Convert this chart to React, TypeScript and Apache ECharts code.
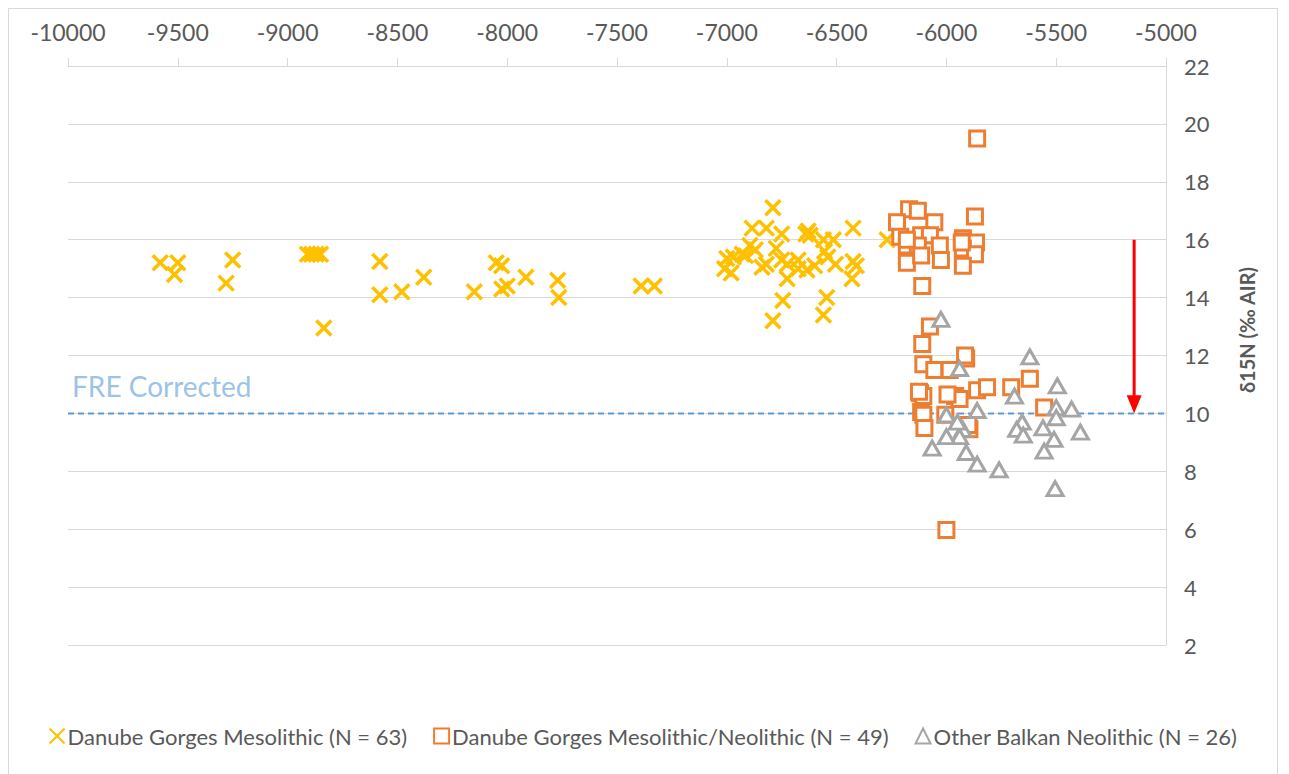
import React, { useEffect, useRef } from "react";
import * as echarts from "echarts";

const xTicks = { min: -10000, max: -5000, interval: 500 };
const yTicks = { min: 2, max: 22, interval: 2 };

const mesoName = "Danube Gorges Mesolithic (N = 63)";
const mesoNeoName = "Danube Gorges Mesolithic/Neolithic (N = 49)";
const balkanName = "Other Balkan Neolithic (N = 26)";

const mesoX = [
  -9580, -9500, -9515, -9250, -9280, -8910, -8890, -8870, -8850, -8835, -8580, -8580, -8480, -8380,
  -8150, -8050, -8025, -8025, -8000, -7915, -7770, -7765, -7390, -7330,
  -6790, -6885, -6820, -6750, -6630, -6620, -6425, -6270, -6895, -6870, -6775, -6560, -6515, -7000,
  -6970, -6915, -7010, -6980, -6840, -6820, -6750, -6725, -6675, -6675, -6635, -6725, -6555, -6540,
  -6505, -6425, -6410, -6430, -6745, -6545, -6790, -6560, -6640, -6930, -6600,
];
const mesoY = [
  15.2, 15.2, 14.8, 15.3, 14.5, 15.5, 15.5, 15.5, 15.5, 12.95, 15.25, 14.1, 14.2, 14.7,
  14.2, 15.2, 15.1, 14.3, 14.4, 14.7, 14.6, 14.0, 14.4, 14.4,
  17.1, 16.4, 16.4, 16.2, 16.3, 16.15, 16.4, 16.0, 15.8, 15.65, 15.7, 16.0, 16.0, 15.35,
  15.4, 15.45, 15.0, 14.85, 15.05, 15.15, 15.3, 15.15, 15.3, 15.0, 14.95, 14.65, 15.6, 15.4,
  15.15, 15.25, 15.1, 14.65, 13.9, 14.0, 13.2, 13.4, 16.2, 15.5, 15.1,
];

const mesoNeoX = [
  -5860, -6170, -6130, -6225, -6055, -5870, -6210, -6115, -6075, -5925, -6180, -6130, -6030, -5925,
  -5865, -6180, -6115, -6025, -5925, -5870, -5925, -6110,
  -6075, -6110, -5910, -6105, -6055, -5985, -6120, -6105, -5960, -5940, -5860, -5815, -5705, -6115,
  -6105, -6005, -6100, -5895, -6000, -5620, -5555,
  -5915, -6125, -6180, -5930, -5995, -5900,
];
const mesoNeoY = [
  19.5, 17.05, 17.0, 16.6, 16.6, 16.8, 16.1, 16.15, 16.15, 16.05, 15.8, 15.8, 15.8, 15.95,
  15.9, 15.2, 15.45, 15.3, 15.7, 15.5, 15.1, 14.4,
  13.0, 12.4, 11.9, 11.7, 11.5, 11.5, 10.7, 10.6, 10.6, 10.5, 10.8, 10.9, 10.9, 10.05,
  9.95, 9.95, 9.5, 9.45, 5.97, 11.2, 10.2,
  12.0, 10.75, 16.0, 15.9, 10.65, 9.6,
];

const balkanX = [
  -6025, -5940, -5690, -5860, -6000, -5925, -5940, -6000, -6065, -5910, -5860, -5760,
  -5620, -5495, -5500, -5430, -5500, -5655, -5680, -5650, -5560, -5390, -5510, -5555, -5505, -5950,
];
const balkanY = [
  13.25, 11.55, 10.6, 10.1, 9.95, 9.45, 9.2, 9.2, 8.8, 8.65, 8.25, 8.05,
  11.95, 10.95, 10.2, 10.15, 9.85, 9.7, 9.45, 9.25, 9.5, 9.35, 9.1, 8.7, 7.4, 9.7,
];

const freLevel = 10;
const arrowX = -5145;
const arrowFrom = 16;
const arrowHead = 10.32;

const zip = (xs: number[], ys: number[]) => xs.map((x, i) => [x, ys[i]]);

const FONT = "Lato, 'Liberation Sans', sans-serif";
const GREY_TEXT = "#595959";
const GRID = "#d9d9d9";

export default function App() {
  const ref = useRef<HTMLDivElement>(null);
  useEffect(() => {
    if (!ref.current) return;
    const chart = echarts.init(ref.current, undefined, { renderer: "svg" });
    chart.setOption({
      animation: false,
      textStyle: { fontFamily: FONT },
      grid: { left: 59, right: 111, top: 57, bottom: 144 },
      xAxis: {
        type: "value",
        position: "top",
        min: xTicks.min,
        max: xTicks.max,
        interval: xTicks.interval,
        axisLine: { show: true, lineStyle: { color: GRID, width: 1 } },
        axisTick: { show: true, length: 8, lineStyle: { color: GRID } },
        axisLabel: {
          margin: 23,
          fontSize: 23,
          color: GREY_TEXT,
          fontFamily: FONT,
          formatter: (v: number) => String(v),
        },
        splitLine: { show: false },
      },
      yAxis: {
        type: "value",
        position: "right",
        min: yTicks.min,
        max: yTicks.max,
        interval: yTicks.interval,
        axisLine: { show: true, lineStyle: { color: GRID, width: 1 } },
        axisTick: { show: false },
        axisLabel: { margin: 18, fontSize: 22, color: GREY_TEXT, fontFamily: FONT },
        splitLine: { show: true, lineStyle: { color: GRID, width: 1 } },
      },
      legend: {
        bottom: 37,
        left: "center",
        itemWidth: 15,
        itemHeight: 15,
        itemGap: 26,
        textStyle: { fontSize: 22, color: GREY_TEXT, fontFamily: FONT, padding: [0, 0, 0, -2] },
        data: [mesoName, mesoNeoName, balkanName],
      },
      graphic: [
        {
          type: "text",
          left: 63,
          top: 363,
          style: { text: "FRE Corrected", fill: "#9DC3E6", fontSize: 28, fontFamily: FONT },
        },
        {
          type: "text",
          x: 1238,
          y: 321,
          rotation: Math.PI / 2,
          style: {
            text: "δ15N (‰ AIR)",
            fill: GREY_TEXT,
            fontSize: 20,
            fontWeight: "bold",
            fontFamily: FONT,
            textAlign: "center",
            textVerticalAlign: "middle",
          },
        },
      ],
      series: [
        {
          name: "FRE",
          type: "line",
          data: [
            [xTicks.min, freLevel],
            [xTicks.max, freLevel],
          ],
          showSymbol: false,
          symbol: "none",
          silent: true,
          lineStyle: { color: "#5B9BD5", width: 2, type: [6, 4] },
          z: 1,
        },
        {
          name: mesoName,
          type: "scatter",
          data: zip(mesoX, mesoY),
          symbol: "path://M0,0L10,10M10,0L0,10",
          symbolSize: 15,
          itemStyle: { color: "#FFC000", borderColor: "#FFC000", borderWidth: 3.5, opacity: 1 },
          z: 2,
        },
        {
          name: mesoNeoName,
          type: "scatter",
          data: zip(mesoNeoX, mesoNeoY),
          symbol: "rect",
          symbolSize: 15,
          itemStyle: { color: "#ffffff", borderColor: "#ED7D31", borderWidth: 3, opacity: 1 },
          z: 3,
        },
        {
          name: balkanName,
          type: "scatter",
          data: zip(balkanX, balkanY),
          symbol: "triangle",
          symbolSize: [16, 14],
          itemStyle: { color: "#ffffff", borderColor: "#A5A5A5", borderWidth: 3, opacity: 1 },
          z: 4,
        },
        {
          name: "arrow",
          type: "line",
          showSymbol: true,
          silent: true,
          data: [
            { value: [arrowX, arrowFrom], symbol: "none" },
            { value: [arrowX, arrowHead], symbol: "triangle", symbolRotate: 180, symbolSize: [15, 18] },
          ],
          lineStyle: { color: "#FF0000", width: 3 },
          itemStyle: { color: "#FF0000", borderWidth: 0 },
          z: 5,
        },
      ],
    });
    return () => chart.dispose();
  }, []);
  return (
    <div
      ref={ref}
      style={{ width: 1268, height: 780, border: "1px solid #d9d9d9" }}
    />
  );
}
